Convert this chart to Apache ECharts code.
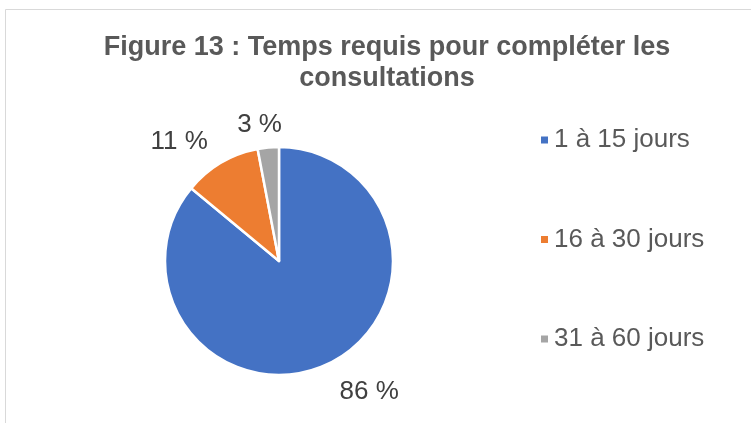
<!DOCTYPE html>
<html>
<head>
<meta charset="utf-8">
<script src="https://cdn.jsdelivr.net/npm/echarts@6/dist/echarts.min.js"></script>
<style>
    html, body { margin: 0; padding: 0; background: #fff; }
    #chart { width: 751px; height: 423px; }
</style>
</head>
<body>
<div id="chart"></div>
<script>
// 数据
const categories = ['1 à 15 jours', '16 à 30 jours', '31 à 60 jours'];
const values = [86, 11, 3];
const colors = ['#4472C4', '#ED7D31', '#A5A5A5'];
// 标签微调 (Excel 的 "最佳位置")
const labelShift = [[1, 15], [10, -20], [20, -9]];

const chart = echarts.init(document.getElementById('chart'));

const option = {
    backgroundColor: '#fff',
    textStyle: { fontFamily: 'Liberation Sans, Arial, sans-serif' },
    graphic: [
        {
            type: 'rect',
            shape: { x: 5.5, y: 9.5, width: 900, height: 500 },
            style: { fill: 'none', stroke: '#d9d9d9', lineWidth: 1 },
            silent: true
        }
    ],
    title: {
        text: 'Figure 13 : Temps requis pour compléter les\nconsultations',
        left: 382,
        top: 27,
        textAlign: 'center',
        textStyle: {
            fontSize: 27,
            fontWeight: 'bold',
            color: '#595959',
            lineHeight: 31
        }
    },
    legend: {
        orient: 'vertical',
        left: 534,
        top: 122,
        itemGap: 73.5,
        icon: 'rect',
        itemWidth: 9,
        itemHeight: 9,
        textStyle: { fontSize: 26, color: '#595959' },
        data: categories
    },
    series: [
        {
            type: 'pie',
            center: [279, 261],
            radius: 114,
            startAngle: 90,
            clockwise: true,
            itemStyle: { borderColor: '#fff', borderWidth: 2.5 },
            label: {
                show: true,
                position: 'outside',
                formatter: '{c} %',
                fontSize: 26,
                color: '#404040'
            },
            labelLine: { show: false, length: 14, length2: 0 },
            labelLayout: (params) => ({
                dx: labelShift[params.dataIndex][0],
                dy: labelShift[params.dataIndex][1]
            }),
            emphasis: { disabled: true },
            data: categories.map((name, i) => ({
                name: name,
                value: values[i],
                itemStyle: { color: colors[i] }
            }))
        }
    ]
};

chart.setOption(option);
</script>
</body>
</html>
